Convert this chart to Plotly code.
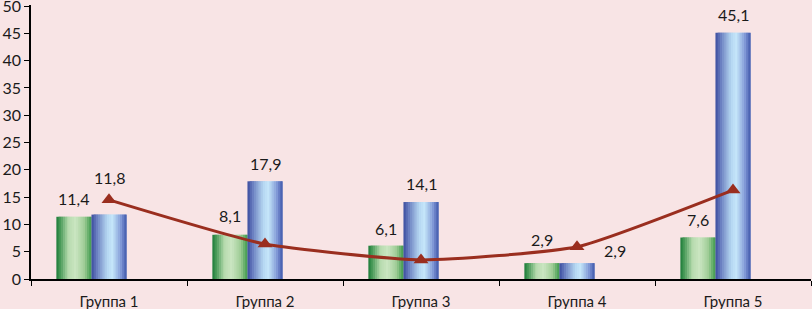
import plotly.graph_objects as go

categories = ["Группа 1", "Группа 2", "Группа 3", "Группа 4", "Группа 5"]
green_values = [11.4, 8.1, 6.1, 2.9, 7.6]
blue_values = [11.8, 17.9, 14.1, 2.9, 45.1]
line_values = [14.5, 6.4, 3.5, 5.9, 16.3]
y_ticks = [0, 5, 10, 15, 20, 25, 30, 35, 40, 45, 50]

BG = "#F8E4E5"
BAR_W = 0.225
GREEN_OFF = -1.5 * BAR_W
BLUE_OFF = -0.5 * BAR_W
N_STRIPS = 16

green_stops = [(0.0, "#1b7a38"), (0.12, "#4f9e5c"), (0.35, "#b8dcb0"),
               (0.55, "#cbe6c2"), (0.8, "#9fcd96"), (1.0, "#3d9a4c")]
blue_stops = [(0.0, "#3b4c9e"), (0.15, "#6a7fc0"), (0.45, "#b6d8f2"),
              (0.6, "#c5e6fa"), (0.85, "#7f96d6"), (1.0, "#3f58aa")]


def hex2rgb(h):
    h = h.lstrip("#")
    return tuple(int(h[i:i + 2], 16) for i in (0, 2, 4))


def interp(stops, t):
    for (t0, c0), (t1, c1) in zip(stops[:-1], stops[1:]):
        if t0 <= t <= t1:
            a = (t - t0) / (t1 - t0) if t1 > t0 else 0
            r0, g0, b0 = hex2rgb(c0)
            r1, g1, b1 = hex2rgb(c1)
            return "rgb(%d,%d,%d)" % (r0 + (r1 - r0) * a, g0 + (g1 - g0) * a, b0 + (b1 - b0) * a)
    return stops[-1][1]


xs = list(range(len(categories)))
fig = go.Figure()


def add_gradient_bars(values, offset, stops):
    sw = BAR_W / N_STRIPS
    for i in range(N_STRIPS):
        t = (i + 0.5) / N_STRIPS
        w = min(sw * 2.0, BAR_W - i * sw)
        fig.add_trace(go.Bar(
            x=xs, y=values, width=w, offset=offset + i * sw,
            marker=dict(color=interp(stops, t), line=dict(width=0)),
            showlegend=False, hoverinfo="skip"))


add_gradient_bars(green_values, GREEN_OFF, green_stops)
add_gradient_bars(blue_values, BLUE_OFF, blue_stops)

fig.add_trace(go.Scatter(
    x=xs, y=line_values, mode="lines+markers",
    line=dict(color="#9a2e1f", width=3, shape="spline", smoothing=0.5),
    marker=dict(symbol="triangle-up", size=13, color="#9a2e1f"),
    showlegend=False))

# label placement tweaks (pixels)
green_label_shift = [(0, 18), (0, 19), (0, 17), (0, 24), (0, 18)]
blue_label_shift = [(0, 37), (0, 18), (0, 19), (38, 13), (0, 18)]


def fmt(v):
    return ("%.1f" % v).replace(".", ",")


for i, v in enumerate(green_values):
    dx, dy = green_label_shift[i]
    fig.add_annotation(x=i + GREEN_OFF + BAR_W / 2, y=v, text=fmt(v), showarrow=False,
                       xshift=dx, yshift=dy, font=dict(size=16, color="#1a1a1a"))
for i, v in enumerate(blue_values):
    dx, dy = blue_label_shift[i]
    fig.add_annotation(x=i + BLUE_OFF + BAR_W / 2, y=v, text=fmt(v), showarrow=False,
                       xshift=dx, yshift=dy, font=dict(size=16, color="#1a1a1a"))

fig.update_layout(
    width=812, height=309,
    margin=dict(l=31, r=1, t=5, b=30),
    paper_bgcolor=BG, plot_bgcolor=BG,
    barmode="overlay",
    font=dict(family="Lato, Open Sans, sans-serif", size=15, color="#1a1a1a"),
    xaxis=dict(
        tickmode="array", tickvals=xs, ticktext=categories,
        range=[-0.5, len(categories) - 0.5],
        showline=True, linecolor="black", linewidth=1.5,
        ticks="", showgrid=False, zeroline=False, automargin=False,
        tickfont=dict(size=15), ticklabelstandoff=8,
    ),
    yaxis=dict(
        range=[0, 50.2], tickvals=y_ticks,
        showline=True, linecolor="black", linewidth=1.5,
        ticks="outside", ticklen=5, tickcolor="black",
        showgrid=False, zeroline=False, automargin=False,
        tickfont=dict(size=16), ticklabeloverflow="allow",
    ),
)

fig.update_xaxes(minor=dict(tickvals=[x - 0.5 for x in xs] + [len(xs) - 0.5],
                            ticks="outside", ticklen=5, tickcolor="black", showgrid=False))

fig.write_html(
    "out.html",
    config={"displayModeBar": False},
    post_script="document.body.style.margin='0';document.body.style.overflow='hidden';"
                "document.body.style.background='" + BG + "';",
)
